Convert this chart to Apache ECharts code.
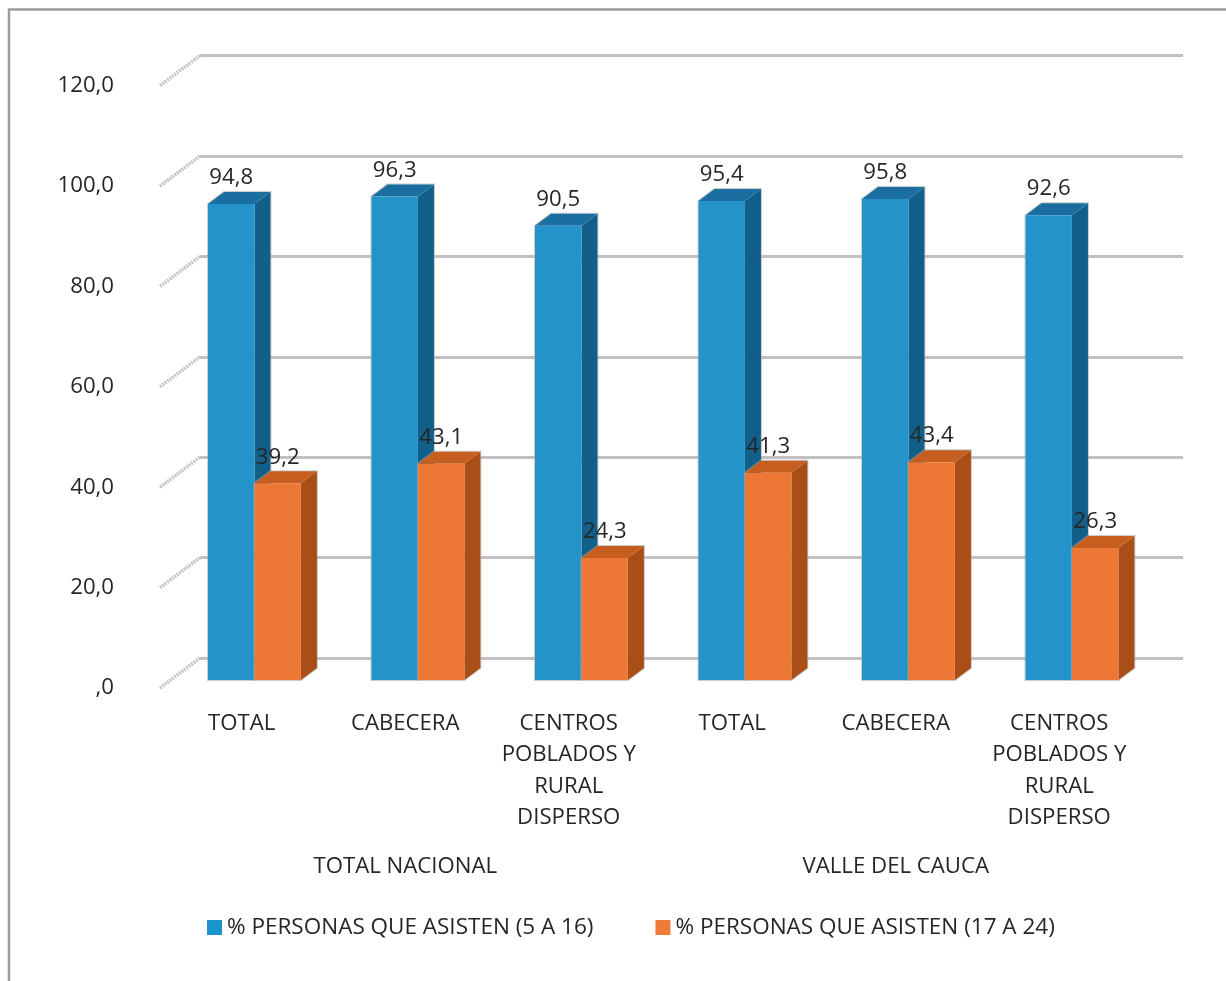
<!DOCTYPE html>
<html>
<head>
<meta charset="utf-8">
<style>html,body{margin:0;padding:0;background:#fff}#c{width:1226px;height:981px}</style>
<script src="https://cdn.jsdelivr.net/npm/echarts@6/dist/echarts.min.js"></script>
</head>
<body>
<div id="c"></div>
<script>
var categories = ['TOTAL','CABECERA','CENTROS\nPOBLADOS Y\nRURAL\nDISPERSO','TOTAL','CABECERA','CENTROS\nPOBLADOS Y\nRURAL\nDISPERSO'];
var groupLabels = ['','TOTAL NACIONAL','','','VALLE DEL CAUCA',''];
var seriesYoung = [94.8,96.3,90.5,95.4,95.8,92.6];
var seriesOlder = [39.2,43.1,24.3,41.3,43.4,26.3];
var nameYoung = '% PERSONAS QUE ASISTEN (5 A 16)';
var nameOlder = '% PERSONAS QUE ASISTEN (17 A 24)';
var yTicks = [0,20,40,60,80,100,120];

var FONT = '"Open Sans"';
var TXT = '#262626';
var FS = 22.2;
function fmt(v){ return v === 0 ? ',0' : v.toFixed(1).replace('.', ','); }

function barRenderer(side, colors){
  return function(params, api){
    var i = api.value(0), v = api.value(1);
    var c = api.coord([i, v]), b = api.coord([i, 0]);
    var w = api.size([1,0])[0] * 0.284;
    var cx = c[0] + 12.7;
    var x0 = side < 0 ? cx - w : cx, x1 = x0 + w;
    var yT = c[1] - 8, yB = b[1] - 8;
    var dx = 16, dy = -12;
    return {type:'group', children:[
      {type:'polygon', shape:{points:[[x0,yB],[x1,yB],[x1+dx,yB+dy],[x1+dx,yT+dy],[x0+dx,yT+dy],[x0,yT]]},
        style:{fill:'none', stroke:'rgba(170,170,170,0.6)', lineWidth:2}},
      {type:'polygon', shape:{points:[[x1,yT],[x1+dx,yT+dy],[x1+dx,yB+dy],[x1,yB]]}, style:{fill:colors[2]}},
      {type:'polygon', shape:{points:[[x0,yT],[x0+dx,yT+dy],[x1+dx,yT+dy],[x1,yT]]}, style:{fill:colors[1]}},
      {type:'rect', shape:{x:x0,y:yT,width:w,height:yB-yT}, style:{fill:colors[0]}},
      {type:'text', z2:50, style:{text:fmt(v), x:(x0+x1)/2, y:yT-26, align:'center', verticalAlign:'middle',
        fill:TXT, font:FS+'px '+FONT}}
    ]};
  };
}
function sideTicks(params, api){
  var c = api.coord([0, api.value(1)]);
  var x = params.coordSys.x;
  return {type:'line', shape:{x1:x, y1:c[1], x2:x+40, y2:c[1]-30},
    style:{stroke:'#c4c4c4', lineWidth:3.5, lineDash:[2,1]}};
}

var chart = echarts.init(document.getElementById('c'), null, {renderer:'canvas'});
chart.setOption({
  animation:false,
  backgroundColor:'#fff',
  textStyle:{fontFamily:FONT},
  graphic:[{type:'polyline', silent:true, shape:{points:[[9,981],[9,9.5],[1226,9.5]]},
    style:{fill:'none', stroke:'#9c9c9c', lineWidth:2.5}}],
  legend:{left:202, top:911, itemWidth:15, itemHeight:15, itemGap:62, icon:'rect',
    textStyle:{fontFamily:FONT, fontSize:22.5, color:TXT},
    data:[nameYoung,nameOlder]},
  grid:[
    {left:160, top:85.6, width:981, height:602.4},
    {left:200, top:55.6, width:983, height:602.4}
  ],
  xAxis:[
    {type:'category', gridIndex:0, data:categories, axisLine:{show:false}, axisTick:{show:false},
      axisLabel:{interval:0, margin:20, lineHeight:31.3, fontSize:FS, fontFamily:FONT, color:TXT}},
    {type:'category', gridIndex:0, position:'bottom', offset:143, data:groupLabels, axisLine:{show:false}, axisTick:{show:false},
      axisLabel:{interval:0, margin:20, lineHeight:31, fontSize:FS, fontFamily:FONT, color:TXT}},
    {type:'category', gridIndex:1, data:categories, show:false}
  ],
  yAxis:[
    {type:'value', gridIndex:0, min:0, max:120, interval:20, axisLine:{show:false}, axisTick:{show:false}, splitLine:{show:false},
      axisLabel:{margin:46, fontSize:FS, fontFamily:FONT, color:TXT, formatter:fmt, padding:[5,0,0,0]}},
    {type:'value', gridIndex:1, min:0, max:120, interval:20, axisLine:{show:false}, axisTick:{show:false}, axisLabel:{show:false},
      splitLine:{show:true, lineStyle:{color:'#c2c0c0', width:3}}}
  ],
  series:[
    {type:'custom', name:'ticks', xAxisIndex:0, yAxisIndex:0, clip:false, silent:true, z:1,
      encode:{x:0,y:1}, data:yTicks.map(function(t){return [0,t];}), renderItem:sideTicks},
    {type:'custom', name:nameYoung, xAxisIndex:0, yAxisIndex:0, clip:false, z:3,
      itemStyle:{color:'#1b93cc'}, encode:{x:0,y:1},
      data:seriesYoung.map(function(v,i){return [i,v];}),
      renderItem:barRenderer(-1,['#2493ca','#1a6fa0','#125f8a'])},
    {type:'custom', name:nameOlder, xAxisIndex:0, yAxisIndex:0, clip:false, z:4,
      itemStyle:{color:'#f07a38'}, encode:{x:0,y:1},
      data:seriesOlder.map(function(v,i){return [i,v];}),
      renderItem:barRenderer(1,['#ed7836','#c55e1e','#a84e16'])}
  ]
});
</script>
</body>
</html>
